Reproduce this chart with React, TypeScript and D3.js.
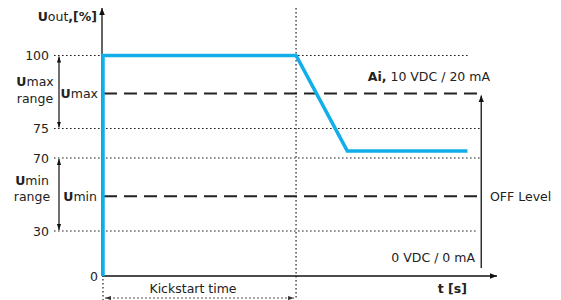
import React from "react";
import * as d3 from "d3";

// Data
const timeValues = [0, 0, 49, 62, 92.5];
const outputValues = [0, 100, 100, 71.2, 71.2];
const yTicks = [0, 30, 70, 75, 100];
const uMax = 87;
const uMin = 49;
const kickstartEnd = 49;
const gridEnds: Record<number, number> = { 100: 93, 75: 96, 70: 96, 30: 95 };

const W = 561;
const H = 300;
const FONT = "'DejaVu Sans', Verdana, sans-serif";
const BLUE = "#12aee9";
const TXT = "#222";

export default function App() {
  const x = d3.scaleLinear().domain([0, 100]).range([103, 497]);
  const y = d3.scaleLinear().domain([0, 30, 70, 75, 100]).range([276, 231, 158, 128.5, 55.5]);
  const line = d3
    .line<number>()
    .x((_, i) => x(timeValues[i]))
    .y((d) => y(d));
  const axisX = 102;
  const rightArrowX = x(96);
  const kx = x(kickstartEnd);

  return (
    <svg width={W} height={H} style={{ position: "absolute", left: 0, top: 0, fontFamily: FONT }}>
      <defs>
        <marker id="ah" viewBox="0 0 10 10" refX="10" refY="5" markerWidth="7" markerHeight="7" orient="auto-start-reverse" markerUnits="userSpaceOnUse">
          <path d="M0,1 L10,5 L0,9 z" fill="#111" />
        </marker>
        <marker id="ahs" viewBox="0 0 10 10" refX="10" refY="5" markerWidth="6" markerHeight="6" orient="auto-start-reverse" markerUnits="userSpaceOnUse">
          <path d="M0,1.5 L10,5 L0,8.5 z" fill="#111" />
        </marker>
        <marker id="ahg" viewBox="0 0 10 10" refX="10" refY="5" markerWidth="6" markerHeight="6" orient="auto-start-reverse" markerUnits="userSpaceOnUse">
          <path d="M0,1.5 L10,5 L0,8.5 z" fill="#333" />
        </marker>
      </defs>

      {/* dotted gridlines */}
      {yTicks.filter((t) => t > 0).map((t) => (
        <line key={t} x1={54} x2={x(gridEnds[t])} y1={y(t)} y2={y(t)} stroke="#222" strokeWidth={1.2} strokeDasharray="1.6,2.4" />
      ))}
      {/* vertical dotted lines */}
      <line x1={kx} x2={kx} y1={8} y2={H} stroke="#222" strokeWidth={1.2} strokeDasharray="1.6,2.4" />
      <line x1={axisX + 1} x2={axisX + 1} y1={y(0) + 3} y2={H} stroke="#222" strokeWidth={1.2} strokeDasharray="1.6,2.4" />

      {/* dashed Umax / Umin */}
      <line x1={104} x2={x(96) - 4} y1={y(uMax)} y2={y(uMax)} stroke="#222" strokeWidth={2} strokeDasharray="13,7" />
      <line x1={104} x2={rightArrowX} y1={y(uMin)} y2={y(uMin)} stroke="#222" strokeWidth={2} strokeDasharray="13,7" />

      {/* axes */}
      <line x1={axisX} x2={axisX} y1={y(0)} y2={8} stroke="#111" strokeWidth={1.3} markerEnd="url(#ah)" />
      <line x1={axisX} x2={x(100)} y1={y(0)} y2={y(0)} stroke="#111" strokeWidth={1.5} markerEnd="url(#ah)" />

      {/* right vertical arrow */}
      <line x1={rightArrowX} x2={rightArrowX} y1={268} y2={y(uMax) + 2} stroke="#111" strokeWidth={1.3} markerEnd="url(#ah)" />

      {/* range arrows */}
      <line x1={59} x2={59} y1={y(100) + 1} y2={y(75) - 1} stroke="#111" strokeWidth={1.2} markerStart="url(#ahs)" markerEnd="url(#ahs)" />
      <line x1={59} x2={59} y1={y(70) + 1} y2={y(30) - 1} stroke="#111" strokeWidth={1.2} markerStart="url(#ahs)" markerEnd="url(#ahs)" />

      {/* kickstart arrow */}
      <line x1={axisX + 3} x2={kx - 2} y1={298} y2={298} stroke="#555" strokeWidth={1} strokeDasharray="2,2" markerStart="url(#ahg)" markerEnd="url(#ahg)" />

      {/* blue output line */}
      <path d={line(outputValues) || ""} fill="none" stroke={BLUE} strokeWidth={3.5} strokeLinejoin="miter" />

      {/* tick labels */}
      {yTicks.map((t) => (
        <text key={t} x={t === 0 ? 98 : 49} y={y(t)} dy="0.36em" textAnchor="end" fontSize={12.5} fill={TXT}>
          {t}
        </text>
      ))}

      {/* y title */}
      <text x={97} y={16} dy="0.36em" textAnchor="end" fontSize={12.5} fill={TXT}>
        <tspan fontWeight="bold">U</tspan>
        <tspan>out</tspan>
        <tspan fontWeight="bold">,[%]</tspan>
      </text>

      {/* range labels */}
      <text x={35} y={81} dy="0.36em" textAnchor="middle" fontSize={12.5} fill={TXT}>
        <tspan fontWeight="bold">U</tspan>
        <tspan>max</tspan>
      </text>
      <text x={35} y={98} dy="0.36em" textAnchor="middle" fontSize={12.5} fill={TXT}>range</text>
      <text x={32} y={180} dy="0.36em" textAnchor="middle" fontSize={12.5} fill={TXT}>
        <tspan fontWeight="bold">U</tspan>
        <tspan>min</tspan>
      </text>
      <text x={32} y={196} dy="0.36em" textAnchor="middle" fontSize={12.5} fill={TXT}>range</text>

      <text x={98} y={y(uMax)} dy="0.36em" textAnchor="end" fontSize={12.5} fill={TXT}>
        <tspan fontWeight="bold">U</tspan>
        <tspan>max</tspan>
      </text>
      <text x={97} y={y(uMin)} dy="0.36em" textAnchor="end" fontSize={12.5} fill={TXT}>
        <tspan fontWeight="bold">U</tspan>
        <tspan>min</tspan>
      </text>

      {/* right labels */}
      <text x={490} y={76} dy="0.36em" textAnchor="end" fontSize={12.5} fill={TXT}>
        <tspan fontWeight="bold">Ai,</tspan>
        <tspan> 10 VDC / 20 mA</tspan>
      </text>
      <text x={490} y={y(uMin)} dy="0.36em" textAnchor="start" fontSize={12.5} fill={TXT}>OFF Level</text>
      <text x={475} y={257} dy="0.36em" textAnchor="end" fontSize={12.5} fill={TXT}>0 VDC / 0 mA</text>
      <text x={467} y={288} dy="0.36em" textAnchor="end" fontSize={12.5} fontWeight="bold" fill={TXT}>t [s]</text>
      <text x={193} y={288} dy="0.36em" textAnchor="middle" fontSize={12.5} fill={TXT}>Kickstart time</text>
    </svg>
  );
}
